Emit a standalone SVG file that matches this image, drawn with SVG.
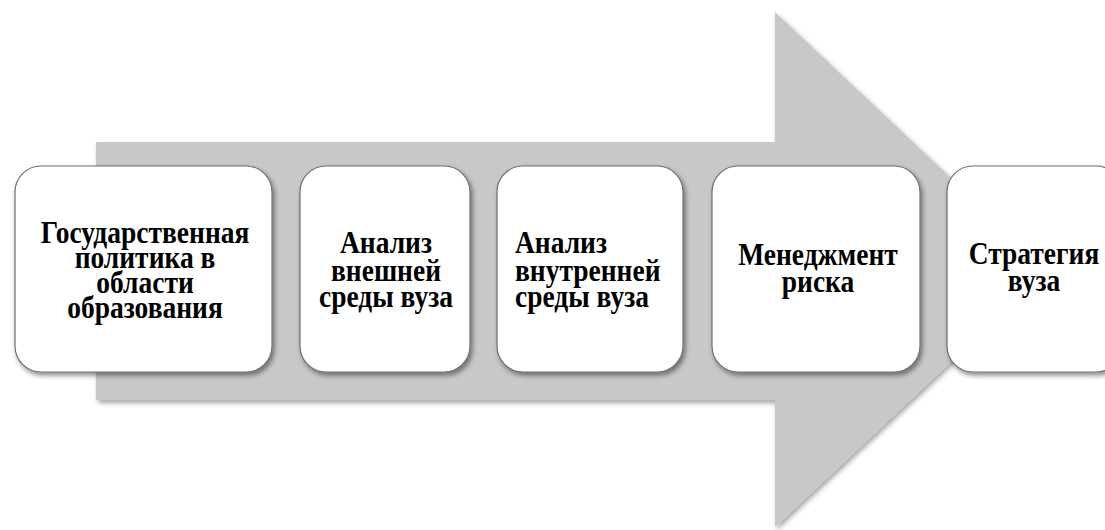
<svg xmlns="http://www.w3.org/2000/svg" width="1105" height="530" viewBox="0 0 1105 530">
<defs>
<filter id="sh" x="-10%" y="-10%" width="130%" height="130%">
<feDropShadow dx="2" dy="3" stdDeviation="2.5" flood-color="#000" flood-opacity="0.45"/>
</filter>
<filter id="sha" x="-5%" y="-5%" width="115%" height="115%">
<feDropShadow dx="2" dy="3" stdDeviation="2.5" flood-color="#000" flood-opacity="0.35"/>
</filter>
</defs>
<style>
.box{fill:#ffffff;stroke:#6e6e6e;stroke-width:1.2;filter:url(#sh)}
.t{font-family:"Liberation Serif","Times New Roman",serif;font-weight:bold;font-size:27.5px;fill:#000}
.c{text-anchor:middle}
</style>
<rect width="1105" height="530" fill="#ffffff"/>
<g id="arrow">
<polygon points="96,142 775,142 775,12 1049,270 775,527 775,400 96,400" fill="#c8c8c8" filter="url(#sha)"/>
</g>
<g id="connectors"></g>
<g id="n1">
<rect class="box" x="15" y="166" width="257" height="206" rx="26"/>
<text class="t c" transform="translate(145,243) scale(1,1.12)">Государственная</text>
<text class="t c" transform="translate(145,268) scale(1,1.12)">политика в</text>
<text class="t c" transform="translate(145,293) scale(1,1.12)">области</text>
<text class="t c" transform="translate(145,318) scale(1,1.12)">образования</text>
</g>
<g id="n2">
<rect class="box" x="300" y="166" width="170" height="206" rx="26"/>
<text class="t c" transform="translate(386,253) scale(1,1.12)">Анализ</text>
<text class="t c" transform="translate(386,281) scale(1,1.12)">внешней</text>
<text class="t c" transform="translate(386,307) scale(1,1.12)">среды вуза</text>
</g>
<g id="n3">
<rect class="box" x="497" y="166" width="186" height="206" rx="26"/>
<text class="t" transform="translate(515,253) scale(1,1.12)">Анализ</text>
<text class="t" transform="translate(515,281) scale(1,1.12)">внутренней</text>
<text class="t" transform="translate(515,307) scale(1,1.12)">среды вуза</text>
</g>
<g id="n4">
<rect class="box" x="712" y="166" width="208" height="206" rx="26"/>
<text class="t c" transform="translate(818,265) scale(1,1.12)">Менеджмент</text>
<text class="t c" transform="translate(818,292) scale(1,1.12)">риска</text>
</g>
<g id="n5">
<rect class="box" x="947" y="166" width="175" height="206" rx="26"/>
<text class="t c" transform="translate(1034,264) scale(1,1.12)">Стратегия</text>
<text class="t c" transform="translate(1034,291) scale(1,1.12)">вуза</text>
</g>
</svg>
